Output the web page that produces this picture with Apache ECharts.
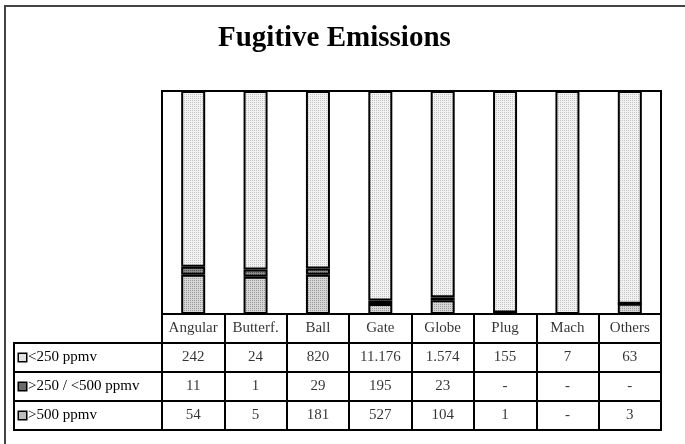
<!DOCTYPE html>
<html>
<head>
<meta charset="utf-8">
<script src="https://cdn.jsdelivr.net/npm/echarts@6/dist/echarts.min.js"></script>
<style>
html,body{margin:0;padding:0;background:#fff;}
#c{width:685px;height:444px;}
</style>
</head>
<body>
<div id="c"></div>
<script>
// ---- data ----
const titleText = 'Fugitive Emissions';
const categories = ['Angular', 'Butterf.', 'Ball', 'Gate', 'Globe', 'Plug', 'Mach', 'Others'];
const seriesNames = ['<250 ppmv', '>250 / <500 ppmv', '>500 ppmv'];
const lowValues = [242, 24, 820, 11176, 1574, 155, 7, 63];     // <250 ppmv
const midValues = [11, 1, 29, 195, 23, 0, 0, 0];               // >250 / <500 ppmv
const highValues = [54, 5, 181, 527, 104, 1, 0, 3];            // >500 ppmv

// ---- helpers ----
function pattern(base, dot) {
  const c = document.createElement('canvas');
  c.width = c.height = 2;
  const x = c.getContext('2d');
  x.fillStyle = base; x.fillRect(0, 0, 2, 2);
  x.fillStyle = dot; x.fillRect(0, 0, 1, 1);
  return { image: c, repeat: 'repeat' };
}
const fills = [
  pattern('#f2f2f2', '#c4c4c4'),
  pattern('#8c8c8c', '#505050'),
  pattern('#d6d6d6', '#9a9a9a')
];
const swatch = ['#e4e4e4', '#6a6a6a', '#bcbcbc'];
function fmt(v) {
  if (v === 0) return '-';
  return String(v).replace(/\B(?=(\d{3})+(?!\d))/g, '.');
}
const rows = [lowValues, midValues, highValues];
const totals = categories.map((_, i) => lowValues[i] + midValues[i] + highValues[i]);
const share = arr => arr.map((v, i) => v / totals[i] * 100);

// table cell data
const cells = [];
categories.forEach((c, i) => cells.push({ value: [i, 0], name: c }));
rows.forEach((r, ri) => r.forEach((v, i) => cells.push({ value: [i, ri + 1], name: fmt(v) })));

const FONT = 'Liberation Serif';
const line = { show: true, lineStyle: { color: '#000', width: 2 } };
const hidden = { show: false };

// bar series: bottom to top = >500, mid, <250
const barOrder = [2, 1, 0];
const barSeries = barOrder.map(k => ({
  name: seriesNames[k],
  type: 'bar',
  stack: 'total',
  xAxisIndex: 0, yAxisIndex: 0,
  barWidth: 24,
  data: share(rows[k]),
  itemStyle: { color: fills[k], borderColor: '#000', borderWidth: 2 },
  silent: true
}));

const option = {
  animation: false,
  backgroundColor: '#fff',
  title: {
    text: titleText, left: 218, top: 24, padding: 0,
    textStyle: { fontFamily: FONT, fontWeight: 'bold', fontSize: 29, color: '#000' }
  },
  graphic: [{
    type: 'rect', shape: { x: 5, y: 6, width: 720, height: 480 },
    style: { fill: 'none', stroke: '#444', lineWidth: 2 }, silent: true, z: -1
  }],
  grid: [
    { left: 162, right: 24, top: 91, bottom: 130, show: true, borderColor: '#000', borderWidth: 2, backgroundColor: 'transparent' },
    { left: 162, right: 24, top: 314, height: 116, show: true, borderColor: '#000', borderWidth: 2, backgroundColor: 'transparent' },
    { left: 14, width: 148, top: 343, height: 87, show: true, borderColor: '#000', borderWidth: 2, backgroundColor: 'transparent' }
  ],
  xAxis: [
    { type: 'category', gridIndex: 0, data: categories, axisLine: hidden, axisTick: hidden, axisLabel: hidden, splitLine: hidden },
    { type: 'category', gridIndex: 1, data: categories, axisLine: hidden, axisTick: hidden, axisLabel: hidden, splitLine: line },
    { type: 'value', gridIndex: 2, show: false }
  ],
  yAxis: [
    { type: 'value', gridIndex: 0, min: 0, max: 100, show: false },
    { type: 'category', gridIndex: 1, inverse: true, data: ['', ...seriesNames], axisLine: hidden, axisTick: hidden, axisLabel: hidden, splitLine: line },
    {
      type: 'category', gridIndex: 2, inverse: true, data: seriesNames,
      axisLine: hidden, axisTick: hidden, splitLine: line,
      axisLabel: {
        inside: true, margin: 5, fontFamily: FONT, fontSize: 15, color: '#000',
        formatter: (v, i) => '{b' + i + '|}{t|' + v + '}',
        rich: {
          b0: { width: 7, height: 7, backgroundColor: swatch[0], borderColor: '#000', borderWidth: 1.5 },
          b1: { width: 7, height: 7, backgroundColor: swatch[1], borderColor: '#000', borderWidth: 1.5 },
          b2: { width: 7, height: 7, backgroundColor: swatch[2], borderColor: '#000', borderWidth: 1.5 },
          t: { fontFamily: FONT, fontSize: 15, color: '#000', padding: [0, 0, 0, 2] }
        }
      }
    }
  ],
  series: [
    ...barSeries,
    {
      type: 'scatter', xAxisIndex: 1, yAxisIndex: 1,
      symbolSize: 1, itemStyle: { color: 'rgba(0,0,0,0)' },
      data: cells, silent: true,
      label: {
        show: true, position: 'inside', formatter: p => p.name,
        fontFamily: FONT, fontSize: 15, color: '#000'
      }
    }
  ]
};

const chart = echarts.init(document.getElementById('c'), null, { renderer: 'canvas' });
chart.setOption(option);
</script>
</body>
</html>
